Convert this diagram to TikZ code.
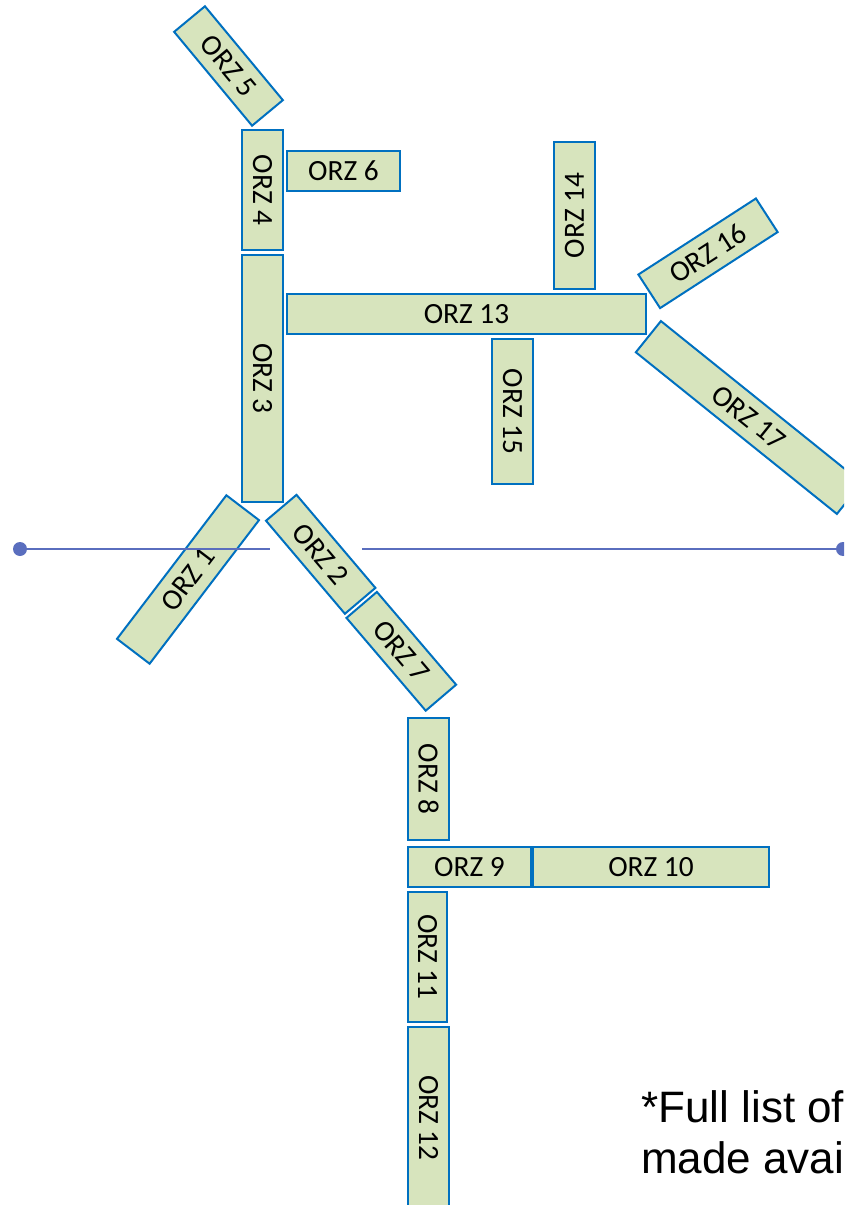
\documentclass[tikz,border=0pt]{standalone}
\usepackage{fontspec}
\newfontfamily\carlito{Carlito}
\newfontfamily\arialf{Liberation Sans}
\definecolor{boxgreen}{RGB}{215,228,189}
\definecolor{boxblue}{RGB}{0,112,192}
\definecolor{axisblue}{RGB}{90,110,190}
\tikzset{
  orz/.style={draw=boxblue, fill=boxgreen, line width=1.5pt, inner sep=0pt,
    font=\carlito\fontsize{22}{22}\selectfont, text=black},
  dotnode/.style={circle, fill=axisblue, inner sep=0pt, minimum size=10.5pt},
  axisline/.style={draw=axisblue, line width=1.6pt},
  foot/.style={font=\arialf\fontsize{33}{33}\selectfont, inner sep=0pt, anchor=base west}
}
\newcommand{\orzbox}[7]{% name, x, y, long, short, rot, text
  \node[orz, minimum width=#4*0.75pt, minimum height=#5*0.75pt, rotate=#6] (#1) at (#2,#3) {#7};}
\begin{document}
\begin{tikzpicture}[x=0.75pt,y=-0.75pt]
\useasboundingbox (0,0) rectangle (844,1205);
\clip (0,0) rectangle (844,1205);
\orzbox{o5}{228.5}{66}{122}{40}{-50.3}{ORZ 5}
\orzbox{o4}{262.5}{190}{120}{41}{-90}{ORZ 4}
\orzbox{o6}{343.5}{171}{113}{40}{0}{ORZ 6}
\orzbox{o3}{262.5}{378.5}{247}{41}{-90}{ORZ 3}
\orzbox{o13}{466.5}{314}{359}{40}{0}{ORZ 13}
\orzbox{o14}{574.5}{215.5}{147}{41}{90}{ORZ 14}
\orzbox{o15}{512.5}{411.5}{145}{41}{-90}{ORZ 15}
\orzbox{o16}{708}{253.3}{140}{40}{32.9}{ORZ 16}
\orzbox{o17}{748.9}{417.5}{258}{40}{-38.8}{ORZ 17}
\orzbox{o1}{188}{579.5}{180.5}{41}{52.7}{ORZ 1}
\orzbox{o2}{320.7}{554.3}{122}{40}{-49.7}{ORZ 2}
\orzbox{o7}{401.3}{651.3}{122}{40}{-49.5}{ORZ 7}
\orzbox{o8}{428.5}{779}{122}{41}{-90}{ORZ 8}
\orzbox{o9}{469.5}{867}{123}{40}{0}{ORZ 9}
\orzbox{o10}{651}{867}{236}{40}{0}{ORZ 10}
\orzbox{o11}{427.5}{957}{130}{39}{-90}{ORZ 11}
\orzbox{o12}{428.5}{1118}{182}{41}{-90}{ORZ 12}
% axis
\node[dotnode] (dl) at (20,549) {};
\node[dotnode] (dr) at (843,549) {};
\coordinate (gl) at (270,549);
\coordinate (gr) at (362,549);
\draw[axisline] (dl.center) -- (gl);
\draw[axisline] (gr) -- (dr.center);
% footer
\node[foot] (f1) at (641,1122) {*Full list of};
\node[foot] (f2) at (641,1173) {made avail};
\end{tikzpicture}
\end{document}
